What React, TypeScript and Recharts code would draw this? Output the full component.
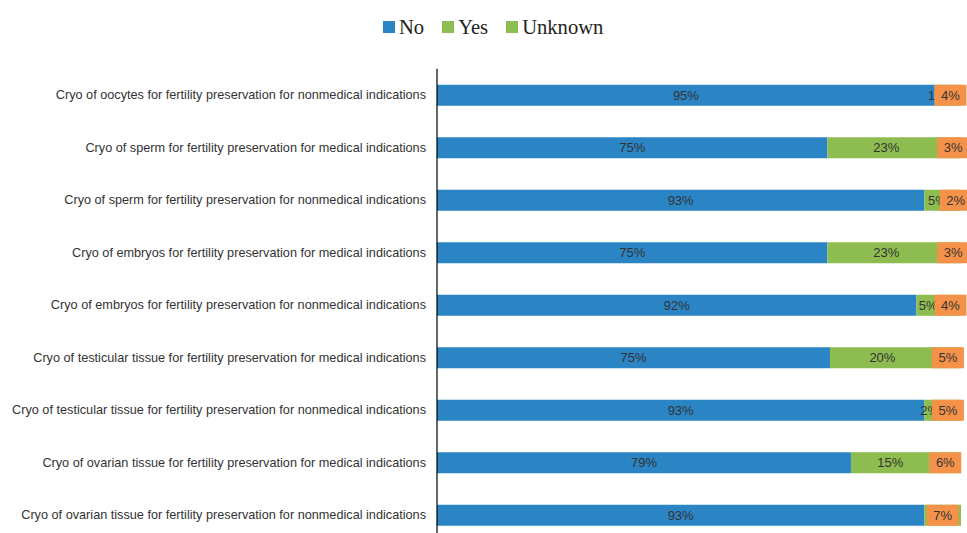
import React from "react";
import { BarChart, Bar, XAxis, YAxis, LabelList } from "recharts";

const categories = [
  "Cryo of oocytes for fertility preservation for nonmedical indications",
  "Cryo of sperm for fertility preservation for medical indications",
  "Cryo of sperm for fertility preservation for nonmedical indications",
  "Cryo of embryos for fertility preservation for medical indications",
  "Cryo of embryos for fertility preservation for nonmedical indications",
  "Cryo of testicular tissue for fertility preservation for medical indications",
  "Cryo of testicular tissue for fertility preservation for nonmedical indications",
  "Cryo of ovarian tissue for fertility preservation for medical indications",
  "Cryo of ovarian tissue for fertility preservation for nonmedical indications",
];
const noValues = [95, 74.5, 93, 74.5, 91.5, 75, 93, 79, 93];
const yesValues = [1, 22.5, 5, 22.5, 4.5, 20, 2, 15, 0];
const unknownValues = [4, 3, 2, 3, 4, 5, 5, 6, 7];

const BLUE = "#2b84c4";
const GREEN = "#8dbd50";
const ORANGE = "#f5924a";

const data = categories.map((c, i) => ({
  name: c,
  No: noValues[i],
  Yes: yesValues[i],
  Unknown: unknownValues[i],
}));

const legendItems = [
  { label: "No", color: BLUE },
  { label: "Yes", color: GREEN },
  { label: "Unknown", color: GREEN },
];

const LABEL_FONT = "'Liberation Sans', Arial, sans-serif";

const makeLabel = (boxed: boolean) => (props: any) => {
  const { x, y, width, height, value } = props;
  if (typeof value !== "number" || value <= 0) return null;
  const cx = Number(x) + Number(width) / 2;
  const cy = Number(y) + Number(height) / 2;
  const text = `${Math.round(value)}%`;
  return (
    <g>
      {boxed && <rect x={cx - 16} y={Number(y)} width={32} height={Number(height)} fill={ORANGE} />}
      <text
        x={cx}
        y={cy}
        textAnchor="middle"
        dominantBaseline="central"
        fill="#333"
        fontSize={13}
        fontFamily={LABEL_FONT}
      >
        {text}
      </text>
    </g>
  );
};

const YTick = (props: any) => {
  const { x, y, payload } = props;
  return (
    <text x={x} y={y} textAnchor="end" dominantBaseline="central" fill="#333" fontSize={12.7} fontFamily={LABEL_FONT}>
      {payload.value}
    </text>
  );
};

export default function App() {
  return (
    <div style={{ position: "absolute", left: 0, top: 0, width: 967, height: 533, overflow: "hidden", background: "#fff" }}>
      <div
        style={{
          position: "absolute",
          left: 383,
          top: 13,
          display: "flex",
          alignItems: "center",
          fontFamily: "'Liberation Serif', 'Times New Roman', serif",
          fontSize: 20.6,
          color: "#222",
          lineHeight: "28px",
          whiteSpace: "nowrap",
        }}
      >
        {legendItems.map((it) => (
          <div key={it.label} style={{ display: "flex", alignItems: "center", marginRight: 18 }}>
            <span style={{ display: "inline-block", width: 12, height: 12, background: it.color, marginRight: 4 }} />
            <span>{it.label}</span>
          </div>
        ))}
      </div>
      <BarChart
        width={967}
        height={545}
        data={data}
        layout="vertical"
        margin={{ top: 68.75, right: 6, bottom: 3.75, left: 0 }}
        barCategoryGap={0}
      >
        <XAxis type="number" domain={[0, 100]} hide allowDataOverflow />
        <YAxis
          type="category"
          dataKey="name"
          width={437}
          tickLine={false}
          axisLine={{ stroke: "#000", strokeWidth: 1.2 }}
          tickMargin={5}
          interval={0}
          tick={<YTick />}
        />
        <Bar dataKey="No" stackId="a" fill={BLUE} barSize={21} isAnimationActive={false}>
          <LabelList dataKey="No" content={makeLabel(false)} />
        </Bar>
        <Bar dataKey="Yes" stackId="a" fill={GREEN} barSize={21} isAnimationActive={false}>
          <LabelList dataKey="Yes" content={makeLabel(false)} />
        </Bar>
        <Bar dataKey="Unknown" stackId="a" fill={GREEN} barSize={21} isAnimationActive={false}>
          <LabelList dataKey="Unknown" content={makeLabel(true)} />
        </Bar>
      </BarChart>
    </div>
  );
}
